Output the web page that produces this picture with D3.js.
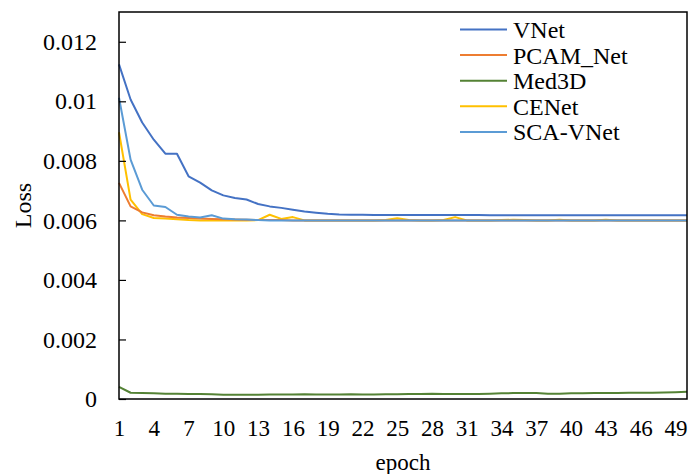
<!DOCTYPE html>
<html>
<head>
<meta charset="utf-8">
<script src="https://cdn.jsdelivr.net/npm/d3@7"></script>
<style>
  body { margin: 0; background: #fff; }
  svg text { font-family: "Liberation Serif", "Times New Roman", serif; fill: #000; }
</style>
</head>
<body>
<svg width="689" height="474"></svg>
<script>
// epochs 1..50
var epochs = d3.range(1, 51);
var xTicks = [1, 4, 7, 10, 13, 16, 19, 22, 25, 28, 31, 34, 37, 40, 43, 46, 49];
var yTicks = [0, 0.002, 0.004, 0.006, 0.008, 0.01, 0.012];
var yTickLabels = ["0", "0.002", "0.004", "0.006", "0.008", "0.01", "0.012"];

var seriesNames = ["VNet", "PCAM_Net", "Med3D", "CENet", "SCA-VNet"];
var seriesColors = ["#4472C4", "#ED7D31", "#548235", "#FFC000", "#5B9BD5"];

var vnet = [0.01124, 0.01006, 0.00929, 0.00871, 0.00824, 0.00824, 0.00748, 0.00727, 0.00701, 0.00684,
            0.00675, 0.00670, 0.00655, 0.00647, 0.00642, 0.00636, 0.00630, 0.00626, 0.00622, 0.00620,
            0.00619, 0.00619, 0.00618, 0.00618, 0.00618, 0.00618, 0.00618, 0.00618, 0.00618, 0.00618,
            0.00618, 0.00618, 0.00617, 0.00617, 0.00617, 0.00617, 0.00617, 0.00617, 0.00617, 0.00617,
            0.00617, 0.00617, 0.00617, 0.00617, 0.00617, 0.00617, 0.00617, 0.00617, 0.00617, 0.00617];
var pcam = [0.00726, 0.00647, 0.00627, 0.00617, 0.00613, 0.00610, 0.00608, 0.00606, 0.00605, 0.00604,
            0.00603, 0.00602, 0.00601, 0.00601, 0.00601, 0.00600, 0.00600, 0.00600, 0.00600, 0.00600,
            0.00600, 0.00600, 0.00600, 0.00600, 0.00600, 0.00600, 0.00600, 0.00600, 0.00600, 0.00600,
            0.00600, 0.00600, 0.00600, 0.00600, 0.00600, 0.00600, 0.00600, 0.00600, 0.00600, 0.00600,
            0.00600, 0.00600, 0.00600, 0.00600, 0.00600, 0.00600, 0.00600, 0.00600, 0.00600, 0.00600];
var med3d = [0.00041, 0.00021, 0.00020, 0.00019, 0.00018, 0.00018, 0.00017, 0.00017, 0.00016, 0.00014,
             0.00014, 0.00014, 0.00014, 0.00015, 0.00015, 0.00015, 0.00016, 0.00015, 0.00015, 0.00015,
             0.00016, 0.00015, 0.00015, 0.00016, 0.00016, 0.00017, 0.00017, 0.00018, 0.00017, 0.00017,
             0.00017, 0.00017, 0.00018, 0.00019, 0.00020, 0.00020, 0.00020, 0.00018, 0.00018, 0.00019,
             0.00019, 0.00020, 0.00020, 0.00020, 0.00021, 0.00021, 0.00021, 0.00022, 0.00023, 0.00024];
var cenet = [0.00896, 0.00670, 0.00621, 0.00608, 0.00606, 0.00604, 0.00601, 0.00600, 0.00600, 0.00600,
             0.00600, 0.00600, 0.00601, 0.00619, 0.00605, 0.00611, 0.00600, 0.00600, 0.00600, 0.00600,
             0.00600, 0.00600, 0.00600, 0.00601, 0.00607, 0.00601, 0.00600, 0.00600, 0.00601, 0.00611,
             0.00600, 0.00600, 0.00600, 0.00601, 0.00602, 0.00601, 0.00600, 0.00600, 0.00602, 0.00600,
             0.00600, 0.00600, 0.00602, 0.00600, 0.00600, 0.00600, 0.00600, 0.00600, 0.00600, 0.00600];
var scaVnet = [0.01012, 0.00804, 0.00703, 0.00650, 0.00645, 0.00619, 0.00613, 0.00610, 0.00617, 0.00606,
               0.00604, 0.00603, 0.00601, 0.00600, 0.00600, 0.00600, 0.00600, 0.00600, 0.00600, 0.00600,
               0.00600, 0.00600, 0.00600, 0.00600, 0.00600, 0.00600, 0.00600, 0.00600, 0.00600, 0.00600,
               0.00600, 0.00600, 0.00600, 0.00600, 0.00600, 0.00600, 0.00600, 0.00600, 0.00600, 0.00600,
               0.00600, 0.00600, 0.00600, 0.00600, 0.00600, 0.00600, 0.00600, 0.00600, 0.00600, 0.00600];

var seriesValues = [vnet, pcam, med3d, cenet, scaVnet];

var svg = d3.select("svg");
var margin = {top: 12, right: 2, bottom: 75, left: 119};
var width = 689 - margin.left - margin.right,
    height = 474 - margin.top - margin.bottom;

var x = d3.scaleLinear().domain([1, 50]).range([0, width]);
var y = d3.scaleLinear().domain([0, 0.013]).range([height, 0]);

var g = svg.append("g")
    .attr("transform", "translate(" + margin.left + "," + margin.top + ")");

// lines
var line = d3.line()
    .x(function(d, i) { return x(epochs[i]); })
    .y(function(d) { return y(d); });

// draw order: Med3D, CENet, PCAM, SCA, VNet
[2, 3, 1, 4, 0].forEach(function(k) {
    g.append("path")
        .datum(seriesValues[k])
        .attr("fill", "none")
        .attr("stroke", seriesColors[k])
        .attr("stroke-width", 2)
        .attr("stroke-linejoin", "round")
        .attr("d", line);
});

// frame
g.append("rect")
    .attr("width", width)
    .attr("height", height)
    .attr("fill", "none")
    .attr("stroke", "#000")
    .attr("stroke-width", 1.5);

// y axis
var yAxis = d3.axisRight(y)
    .tickValues(yTicks)
    .tickSize(7)
    .tickFormat(function(d, i) { return yTickLabels[i]; });
var yg = g.append("g").call(yAxis);
yg.select(".domain").remove();
yg.selectAll(".tick line").attr("stroke", "#000").attr("stroke-width", 1.2);
yg.selectAll(".tick text")
    .attr("x", -22)
    .attr("text-anchor", "end")
    .style("font-size", "24px");

// x axis
var xAxis = d3.axisBottom(x)
    .tickValues(xTicks)
    .tickSize(0)
    .tickFormat(d3.format("d"));
var xg = g.append("g")
    .attr("transform", "translate(0," + height + ")")
    .call(xAxis);
xg.select(".domain").remove();
xg.selectAll(".tick text")
    .attr("y", 21)
    .style("font-size", "23px");

// axis titles
g.append("text")
    .attr("text-anchor", "middle")
    .attr("transform", "translate(" + (-96) + "," + (height / 2) + ")rotate(-90)")
    .attr("dy", "0.35em")
    .style("font-size", "24px")
    .text("Loss");

g.append("text")
    .attr("text-anchor", "middle")
    .attr("x", width / 2)
    .attr("y", height + 71)
    .style("font-size", "23px")
    .text("epoch");

// legend
var legend = g.append("g")
    .attr("transform", "translate(" + (460 - margin.left) + "," + (29.5 - margin.top) + ")");
seriesNames.forEach(function(name, i) {
    var row = legend.append("g").attr("transform", "translate(0," + (i * 25.6) + ")");
    row.append("line")
        .attr("x1", 0).attr("x2", 47)
        .attr("stroke", seriesColors[i])
        .attr("stroke-width", 2);
    row.append("text")
        .attr("x", 53)
        .attr("dy", "0.35em")
        .style("font-size", "24px")
        .text(name);
});
</script>
</body>
</html>
